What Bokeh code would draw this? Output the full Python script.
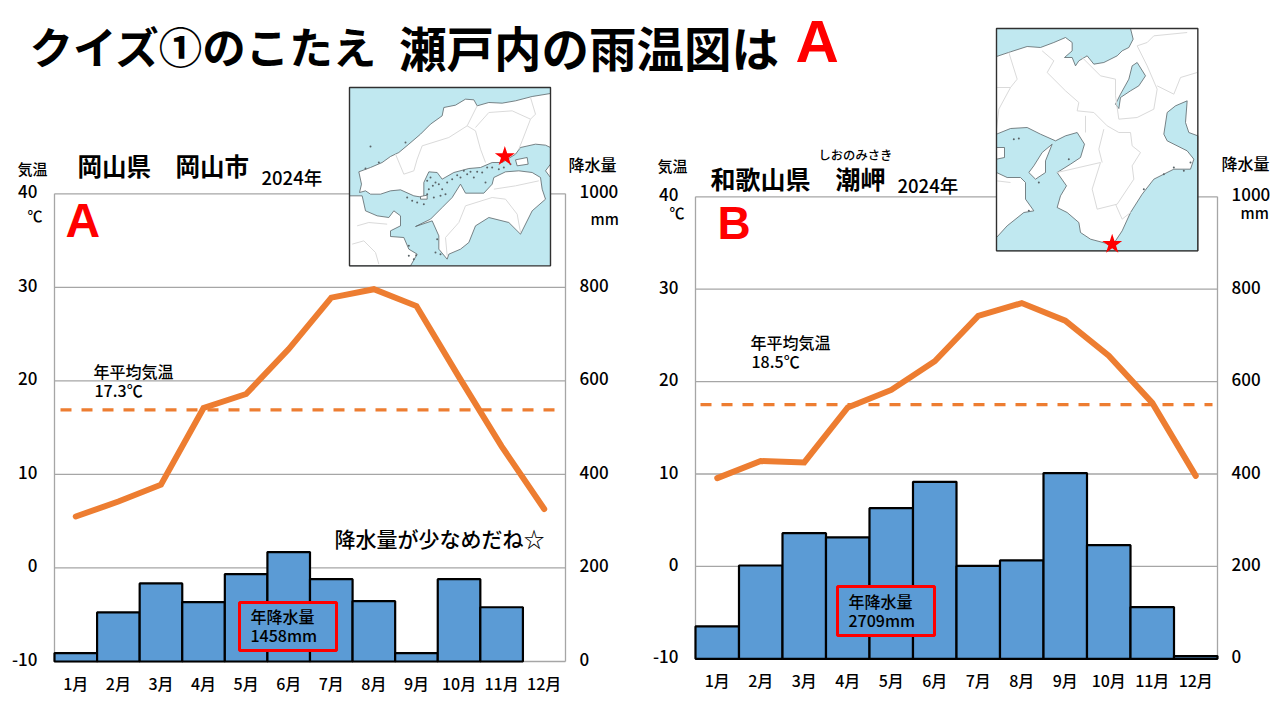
from bokeh.embed import file_html
from bokeh.resources import INLINE
from bokeh.plotting import figure
from bokeh.models import Range1d, LinearAxis, FixedTicker
from bokeh.core.properties import value

# ---------- data ----------
months = list(range(1, 13))
month_labels = ["1月", "2月", "3月", "4月", "5月", "6月", "7月", "8月", "9月", "10月", "11月", "12月"]
temp_ticks = [-10, 0, 10, 20, 30, 40]
rain_ticks = [0, 200, 400, 600, 800, 1000]

temp_a = [5.5, 7.1, 8.9, 17.1, 18.6, 23.4, 28.9, 29.8, 28.0, 20.4, 13.0, 6.3]
rain_a = [18, 105, 167, 127, 187, 234, 176, 129, 18, 176, 116, 0]
mean_a = 16.9

temp_b = [9.55, 11.4, 11.25, 17.2, 19.1, 22.2, 27.1, 28.5, 26.6, 22.8, 17.7, 9.8]
rain_b = [70, 202, 272, 263, 326, 383, 201, 213, 402, 246, 112, 6]
mean_b = 17.5

# ---------- inset map outlines (in map-local units) ----------
land_a = [
    [(615,33),(560,42),(510,55),(470,62),(430,60),(395,70),(385,52),(360,50),(330,68),(295,75),(290,100),(255,125),(225,155),(190,185),(160,210),(135,222),(110,240),(75,255),(40,268),(48,305),(42,330),(60,325),(75,335),(105,335),(135,325),(165,322),(205,340),(235,345),(235,300),(250,268),(275,270),(290,290),(325,270),(370,258),(405,255),(440,240),(470,240),(510,215),(525,195),(570,185),(600,188),(615,195)],
    [(345,305),(360,332),(415,332),(440,305),(445,285),(480,268),(520,265),(560,270),(585,285),(590,320),(600,350),(560,385),(525,455),(490,420),(430,405),(390,430),(370,480),(345,500),(310,515),(305,530),(280,500),(280,460),(260,415),(210,432),(255,410),(290,375),(320,345)],
    [(12,340),(50,340),(60,385),(95,400),(130,405),(145,385),(165,400),(165,430),(135,445),(135,462),(175,465),(190,500),(215,515),(195,550),(12,550)],
    [(510,232),(545,225),(548,245),(515,250)],
    [(225,342),(245,338),(245,350),(225,350)],
    [(615,245),(600,265),(615,285)],
]
borders_a = [
    [(395,70),(365,130),(310,165),(230,190),(215,230),(205,265),(175,275),(150,215)],
    [(365,130),(390,145),(405,200),(420,240)],
    [(390,135),(430,90),(500,85),(555,110),(530,175),(520,200)],
    [(555,45),(570,95),(555,110)],
    [(445,320),(510,310),(580,295)],
    [(360,370),(440,345),(480,350),(515,395),(525,450)],
    [(360,370),(340,420),(300,465),(305,520)],
    [(20,485),(55,475),(90,510),(100,545)],
    [(35,430),(70,420),(125,425)],
]
isles_a = [(255,285),(270,300),(250,320),(290,320),(265,345),(300,335),(215,360),(235,365),(345,285),(365,275),(385,285),(410,270),(440,255),(460,260),(420,300),(190,490),(205,530),(275,470),(270,510),(75,192),(180,180),(100,240),(60,258),
           (245,295),(262,310),(280,305),(245,335),(285,340),(305,300),(320,290),(335,278),(355,265),(375,268),(395,268),(425,255),(475,255),(495,245),(185,345),(200,355),(190,520),(212,518),(285,515)]

sea_b = [
    [(18,18),(420,18),(428,50),(415,75),(395,85),(380,100),(340,120),(310,125),(290,100),(265,115),(255,130),(245,105),(222,105),(245,85),(245,60),(225,45),(190,60),(150,75),(110,72),(60,88),(18,102)],
    [(440,120),(465,160),(445,190),(420,205),(390,225),(385,258),(375,245),(390,215),(415,170),(425,130)],
    [(18,335),(60,318),(110,315),(150,335),(195,355),(225,340),(260,330),(282,365),(270,405),(240,425),(200,450),(228,490),(210,520),(200,555),(230,570),(265,600),(270,630),(300,650),(345,662),(365,670),(395,625),(420,570),(455,515),(490,470),(550,440),(600,440),(610,410),(590,385),(530,355),(520,335),(530,270),(555,250),(590,235),(585,300),(595,330),(622,340),(622,685),(18,685),(18,645),(50,610),(100,570),(130,565),(105,530),(105,480),(90,465),(50,465),(18,450)],
]
land_b = [
    [(185,365),(165,415),(165,450),(135,470),(115,450),(130,430),(155,390)],
    [(18,375),(42,375),(42,405),(18,410)],
]
borders_b = [
    [(55,90),(80,170),(60,195),(18,195)],
    [(60,195),(25,260),(18,320)],
    [(155,85),(190,115),(170,150),(225,205),(265,240),(260,265),(310,270),(350,310),(385,330),(420,330),(425,370),(450,390),(425,430),(430,470),(380,545),(320,560),(305,500),(330,420),(200,450)],
    [(340,320),(325,380),(335,420)],
    [(285,280),(285,330)],
    [(270,100),(330,160),(375,170),(375,220),(385,290),(440,285),(490,260),(500,200),(470,130),(440,70),(470,60),(490,40),(590,30)],
    [(500,190),(550,215),(570,165),(620,150)],
    [(375,545),(395,590),(420,570)],
    [(18,475),(60,480)],
]
isles_b = [(70,350),(85,348),(235,410),(550,435),(580,445),(600,420),(520,455),(115,565),(145,480),(460,500)]

# ---------- styles ----------
FONT = "Noto Sans CJK JP"
SMALL = "Noto Sans CJK JP Medium, Noto Sans CJK JP"
LATIN = "Liberation Sans"
BLUE = "#5B9BD5"
ORANGE = "#ED7D31"
GRID = "#A6A6A6"
SEA = "#C0E8F0"
COAST = "#5A6468"
PREF = "#DADADA"
RED = "#FF0000"

W, H = 1280, 720
LEFT, TOP = 0, 0
LABEL_LIFT = 2


def through(v0, s0, v1, s1, a, b):
    k = (v1 - v0) / (s1 - s0)
    return Range1d(start=v0 + (a - s0) * k, end=v0 + (b - s0) * k)


# the base scales are page pixels; the chart scales are the extra ranges
p = figure(width=W, height=H, output_backend="svg", toolbar_location=None,
           x_range=Range1d(LEFT, LEFT + W), y_range=Range1d(TOP + H, TOP),
           x_axis_location=None, y_axis_location=None, min_border=0,
           outline_line_color=None)
p.grid.visible = False
p.background_fill_color = "white"
p.border_fill_color = "white"


def style_axis(ax, standoff, size="17px"):
    ax.major_tick_line_color = None
    ax.minor_tick_line_color = None
    ax.axis_line_color = None
    ax.major_label_standoff = standoff
    ax.major_label_text_font = SMALL
    ax.major_label_text_font_size = size
    ax.major_label_text_color = "black"
    ax.level = "underlay"


def chart(name, temp, rain, mean, x0, x1, y_top, y_bottom, dash_x, skip_zero):
    tn, rn, mn = "temp" + name, "rain" + name, "month" + name
    p.extra_y_ranges[tn] = through(temp_ticks[0], y_bottom, temp_ticks[-1], y_top, TOP + H, TOP)
    p.extra_y_ranges[rn] = through(rain_ticks[0], y_bottom, rain_ticks[-1], y_top, TOP + H, TOP)
    p.extra_x_ranges[mn] = through(months[0] - 0.5, x0, months[-1] + 0.5, x1, LEFT, LEFT + W)
    # the tick labels sit a little above their grid lines in the reference
    p.extra_y_ranges[tn + "lab"] = through(temp_ticks[0], y_bottom - LABEL_LIFT, temp_ticks[-1], y_top - LABEL_LIFT, TOP + H, TOP)
    p.extra_y_ranges[rn + "lab"] = through(rain_ticks[0], y_bottom - LABEL_LIFT, rain_ticks[-1], y_top - LABEL_LIFT, TOP + H, TOP)

    left = LinearAxis(y_range_name=tn + "lab", fixed_location=x0, ticker=FixedTicker(ticks=temp_ticks),
                      major_label_overrides={t: str(t) for t in temp_ticks})
    style_axis(left, 11)
    p.add_layout(left, "left")

    right = LinearAxis(y_range_name=rn + "lab", fixed_location=x1, ticker=FixedTicker(ticks=rain_ticks))
    style_axis(right, 8)
    p.add_layout(right, "right")

    bottom = LinearAxis(x_range_name=mn, fixed_location=y_bottom, ticker=FixedTicker(ticks=months),
                        major_label_overrides=dict(zip(months, month_labels)))
    style_axis(bottom, 3, "16px")
    p.add_layout(bottom, "below")

    # grid lines at the temperature ticks, and the two upright frame lines
    lo, hi = months[0] - 0.5, months[-1] + 0.5
    p.multi_line(xs=[[lo, hi] for _ in temp_ticks] + [[lo, lo], [hi, hi]],
                 ys=[[t, t] for t in temp_ticks] + [[temp_ticks[0], temp_ticks[-1]]] * 2,
                 x_range_name=mn, y_range_name=tn, line_color=GRID, line_width=1.3, level="underlay")

    kept = [(m, r) for m, r in zip(months, rain) if r > 0 or not skip_zero]
    p.vbar(x=[k[0] for k in kept], top=[k[1] for k in kept], bottom=0, width=1.0,
           x_range_name=mn, y_range_name=rn, fill_color=BLUE, line_color="black", line_width=2.2)

    p.line(months, temp, x_range_name=mn, y_range_name=tn, line_color=ORANGE, line_width=6,
           line_cap="round", line_join="miter")
    p.line(dash_x, [mean, mean], y_range_name=tn, line_color=ORANGE, line_width=3.3, line_dash="11 10")


def label(x, y, text, size, color="black", weight="normal", font=SMALL):
    p.text([x], [y], text=[text], text_font=value(font), text_font_size=f"{size}px",
           text_color=color, text_font_style=weight, text_align="left", text_baseline="middle")


def rain_box(x0, x1, y0, y1):
    p.quad(left=[x0], right=[x1], top=[y0], bottom=[y1], fill_color=BLUE, line_color=RED, line_width=3)


def draw_map(px, py, x0, x1, y0, y1, base, fills, fill_color, borders, isles, star):
    """local units are three to a page pixel"""
    fx = lambda v: px + v / 3
    fy = lambda v: py + v / 3
    p.quad(left=[fx(x0)], right=[fx(x1)], top=[fy(y0)], bottom=[fy(y1)], fill_color=base, line_color=None)
    for poly in fills[0]:
        p.patch([fx(a) for a, _ in poly], [fy(b) for _, b in poly], fill_color=fill_color[0],
                line_color=COAST, line_width=0.8)
    for poly in fills[1]:
        p.patch([fx(a) for a, _ in poly], [fy(b) for _, b in poly], fill_color=fill_color[1],
                line_color=COAST, line_width=0.8)
    p.multi_line([[fx(a) for a, _ in l] for l in borders], [[fy(b) for _, b in l] for l in borders],
                 line_color=PREF, line_width=1)
    p.scatter([fx(a) for a, _ in isles], [fy(b) for _, b in isles], size=2, marker="circle",
              fill_color=COAST, line_color=None)
    p.quad(left=[fx(x0)], right=[fx(x1)], top=[fy(y0)], bottom=[fy(y1)], fill_color=None,
           line_color="#303030", line_width=1.4)
    p.scatter([fx(star[0])], [fy(star[1])], marker="star", size=21, fill_color=RED, line_color=None)


chart("A", temp_a, rain_a, mean_a, 54, 565, 193.3, 661, [60, 557], True)
chart("B", temp_b, rain_b, mean_b, 695, 1217, 196.3, 658.3, [700, 1212], False)

rain_box(239, 336, 602, 650)
rain_box(837, 934, 586, 635)

# heading
label(29, 45, "クイズ①のこたえ", 43.5, weight="bold", font=FONT)
label(398.5, 46, "瀬戸内の雨温図は", 47.5, weight="bold", font=FONT)
label(795, 41, "A", 60, color=RED, weight="bold", font=LATIN)

# chart A texts
label(17, 168, "気温", 15)
label(77, 165, "岡山県　岡山市", 24.5, weight="bold", font=FONT)
label(261, 176, "2024年", 18.5)
label(65, 220, "A", 48, color=RED, weight="bold", font=LATIN)
label(27, 215, "℃", 15)
label(590, 218, "mm", 15)
label(568, 163, "降水量", 16)
label(93, 370, "年平均気温", 16)
label(94, 389, "17.3℃", 16)
label(334, 537, "降水量が少なめだね☆", 21)
label(250, 615, "年降水量", 16)
label(250, 634, "1458mm", 16)

# chart B texts
label(657, 165, "気温", 15)
label(818, 154, "しおのみさき", 12.3)
label(710, 177, "和歌山県　潮岬", 25, weight="bold", font=FONT)
label(897, 184, "2024年", 18.5)
label(717, 222, "B", 46, color=RED, weight="bold", font=LATIN)
label(669, 212, "℃", 15)
label(1240, 212, "mm", 15)
label(1221, 162, "降水量", 16)
label(750, 341, "年平均気温", 16)
label(751, 360, "18.5℃", 16)
label(848, 600, "年降水量", 16)
label(848, 619, "2709mm", 16)

# inset maps
draw_map(345, 82, 12, 615, 15, 550, SEA, (land_a, []), ("white", "white"), borders_a, isles_a, (478, 222))
draw_map(990, 22, 18, 622, 18, 685, "white", (sea_b, land_b), (SEA, "white"), borders_b, isles_b, (365, 665))

open("out.html", "w").write(file_html(p, INLINE))
